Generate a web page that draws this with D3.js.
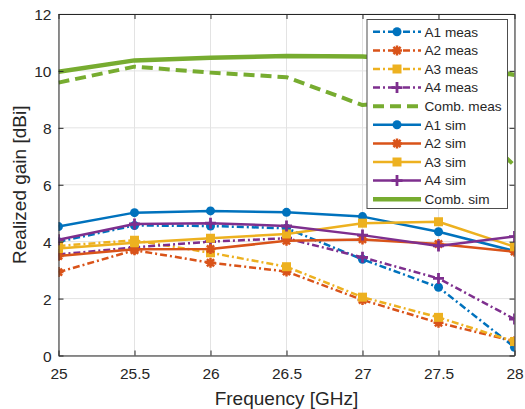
<!DOCTYPE html>
<html>
<head>
<meta charset="utf-8">
<script src="https://cdn.jsdelivr.net/npm/d3@7"></script>
<style>
html,body{margin:0;padding:0;background:#fff;}
svg{display:block;font-family:"Liberation Sans",Arial,Helvetica,sans-serif;}
</style>
</head>
<body>
<svg id="chart" width="525" height="409"></svg>
<script>
// ---- data ----
const freqs = [25, 25.5, 26, 26.5, 27, 27.5, 28];
const a1Meas = [4.00, 4.57, 4.55, 4.47, 3.38, 2.40, 0.29];
const a2Meas = [2.93, 3.70, 3.26, 2.95, 1.95, 1.15, 0.50];
const a3Meas = [3.85, 4.05, 3.61, 3.12, 2.05, 1.34, 0.49];
const a4Meas = [3.55, 3.80, 4.00, 4.12, 3.45, 2.71, 1.28];
const combMeas = [9.59, 10.15, 9.94, 9.78, 8.80, 9.10, 6.68];
const a1Sim = [4.53, 5.02, 5.08, 5.03, 4.88, 4.35, 3.67];
const a2Sim = [3.50, 3.73, 3.74, 4.03, 4.08, 3.92, 3.65];
const a3Sim = [3.76, 3.96, 4.12, 4.27, 4.65, 4.70, 3.82];
const a4Sim = [4.07, 4.62, 4.65, 4.55, 4.23, 3.85, 4.18];
const combSim = [9.97, 10.37, 10.46, 10.52, 10.51, 10.32, 9.86];
const xTicks = [25, 25.5, 26, 26.5, 27, 27.5, 28];
const yTicks = [0, 2, 4, 6, 8, 10, 12];
const seriesNames = ["A1 meas","A2 meas","A3 meas","A4 meas","Comb. meas","A1 sim","A2 sim","A3 sim","A4 sim","Comb. sim"];

const C = {blue:"#0072BD", orange:"#D95319", yellow:"#EDB120", purple:"#7E2F8E", green:"#77AC30"};
const series = [
  {name:seriesNames[0], vals:a1Meas, color:C.blue, dash:"7,3,2,3", w:2.5, marker:"circle"},
  {name:seriesNames[1], vals:a2Meas, color:C.orange, dash:"7,3,2,3", w:2.5, marker:"asterisk"},
  {name:seriesNames[2], vals:a3Meas, color:C.yellow, dash:"7,3,2,3", w:2.5, marker:"square"},
  {name:seriesNames[3], vals:a4Meas, color:C.purple, dash:"7,3,2,3", w:2.5, marker:"plus"},
  {name:seriesNames[4], vals:combMeas, color:C.green, dash:"11,6", w:4, marker:null},
  {name:seriesNames[5], vals:a1Sim, color:C.blue, dash:null, w:2.5, marker:"circle"},
  {name:seriesNames[6], vals:a2Sim, color:C.orange, dash:null, w:2.5, marker:"asterisk"},
  {name:seriesNames[7], vals:a3Sim, color:C.yellow, dash:null, w:2.5, marker:"square"},
  {name:seriesNames[8], vals:a4Sim, color:C.purple, dash:null, w:2.5, marker:"plus"},
  {name:seriesNames[9], vals:combSim, color:C.green, dash:null, w:4.5, marker:null}
];

const svg = d3.select("#chart");
const L = 58.5, R = 514.5, T = 14, B = 355.5;
const x = d3.scaleLinear().domain([25, 28]).range([L, R]);
const y = d3.scaleLinear().domain([0, 12]).range([B, T]);
const axisColor = "#262626";

// grid
const grid = svg.append("g");
grid.selectAll(".gx").data(xTicks).enter().append("line")
  .attr("x1", d => x(d)).attr("x2", d => x(d)).attr("y1", T).attr("y2", B)
  .attr("stroke", "#e3e3e3").attr("stroke-width", 1);
grid.selectAll(".gy").data(yTicks).enter().append("line")
  .attr("x1", L).attr("x2", R).attr("y1", d => y(d)).attr("y2", d => y(d))
  .attr("stroke", "#e3e3e3").attr("stroke-width", 1);

// clip
svg.append("clipPath").attr("id", "clip").append("rect")
  .attr("x", L).attr("y", T).attr("width", R - L).attr("height", B - T);

function drawMarker(g, type, cx, cy, color) {
  if (type === "circle") {
    g.append("circle").attr("cx", cx).attr("cy", cy).attr("r", 4.5).attr("fill", color);
  } else if (type === "square") {
    g.append("rect").attr("x", cx - 4.5).attr("y", cy - 4.5).attr("width", 9).attr("height", 9).attr("fill", color);
  } else if (type === "plus") {
    g.append("path").attr("d", `M${cx-5.5},${cy}H${cx+5.5}M${cx},${cy-5.5}V${cy+5.5}`)
      .attr("stroke", color).attr("stroke-width", 2.8).attr("fill", "none");
  } else if (type === "asterisk") {
    const r = 5, d = 3.6;
    g.append("path").attr("d", `M${cx-r},${cy}H${cx+r}M${cx},${cy-r}V${cy+r}M${cx-d},${cy-d}L${cx+d},${cy+d}M${cx-d},${cy+d}L${cx+d},${cy-d}`)
      .attr("stroke", color).attr("stroke-width", 2.5).attr("fill", "none");
  }
}

const plot = svg.append("g").attr("clip-path", "url(#clip)");
const line = d3.line().x(d => x(d[0])).y(d => y(d[1]));
series.forEach(s => {
  const pts = freqs.map((f, i) => [f, s.vals[i]]);
  const g = plot.append("g");
  g.append("path").attr("d", line(pts)).attr("fill", "none")
    .attr("stroke", s.color).attr("stroke-width", s.w)
    .attr("stroke-dasharray", s.dash).attr("stroke-linejoin", "round");
  if (s.marker) pts.forEach(p => drawMarker(g, s.marker, x(p[0]), y(p[1]), s.color));
});

// axes
const xAxis = d3.axisBottom(x).tickValues(xTicks).tickSizeInner(-5).tickSizeOuter(0).tickFormat(d3.format("~g"));
const yAxis = d3.axisLeft(y).tickValues(yTicks).tickSizeInner(-5).tickSizeOuter(0).tickFormat(d3.format("~g"));
const gx = svg.append("g").attr("transform", `translate(0,${B})`).call(xAxis);
const gy = svg.append("g").attr("transform", `translate(${L},0)`).call(yAxis);
const gxTop = svg.append("g").attr("transform", `translate(0,${T})`).call(d3.axisTop(x).tickValues(xTicks).tickSizeInner(-5).tickSizeOuter(0).tickFormat(""));
const gyRight = svg.append("g").attr("transform", `translate(${R},0)`).call(d3.axisRight(y).tickValues(yTicks).tickSizeInner(-5).tickSizeOuter(0).tickFormat(""));
[gx, gy, gxTop, gyRight].forEach(g => {
  g.select(".domain").attr("stroke", axisColor).attr("stroke-width", 1);
  g.selectAll(".tick line").attr("stroke", axisColor);
  g.selectAll("text").attr("fill", axisColor).style("font-size", "15.5px").style("font-family", "Liberation Sans, Arial, sans-serif");
});
gx.selectAll("text").attr("dy", "0").attr("y", 23);
gy.selectAll("text").attr("x", -7).attr("dy", "0.36em");

// axis labels
svg.append("text").attr("x", (L + R) / 2).attr("y", 405).attr("text-anchor", "middle")
  .attr("fill", axisColor).style("font-size", "19px").text("Frequency [GHz]");
svg.append("text").attr("transform", `translate(26,${(T + B) / 2}) rotate(-90)`).attr("text-anchor", "middle")
  .attr("fill", axisColor).style("font-size", "19px").text("Realized gain [dBi]");

// legend
const lg = svg.append("g");
const lx = 367, ly = 19.5, lw = 140.5, lh = 189;
lg.append("rect").attr("x", lx).attr("y", ly).attr("width", lw).attr("height", lh)
  .attr("fill", "#fff").attr("stroke", "#4d4d4d").attr("stroke-width", 1);
series.forEach((s, i) => {
  const yy = 31.8 + i * 18.6;
  const g = lg.append("g");
  g.append("line").attr("x1", 373).attr("x2", 421).attr("y1", yy).attr("y2", yy)
    .attr("stroke", s.color).attr("stroke-width", s.w).attr("stroke-dasharray", s.dash);
  if (s.marker) drawMarker(g, s.marker, 397, yy, s.color);
  g.append("text").attr("x", 424.5).attr("y", yy).attr("dy", "0.36em")
    .attr("fill", axisColor).style("font-size", "13.6px").text(s.name);
});
</script>
</body>
</html>
